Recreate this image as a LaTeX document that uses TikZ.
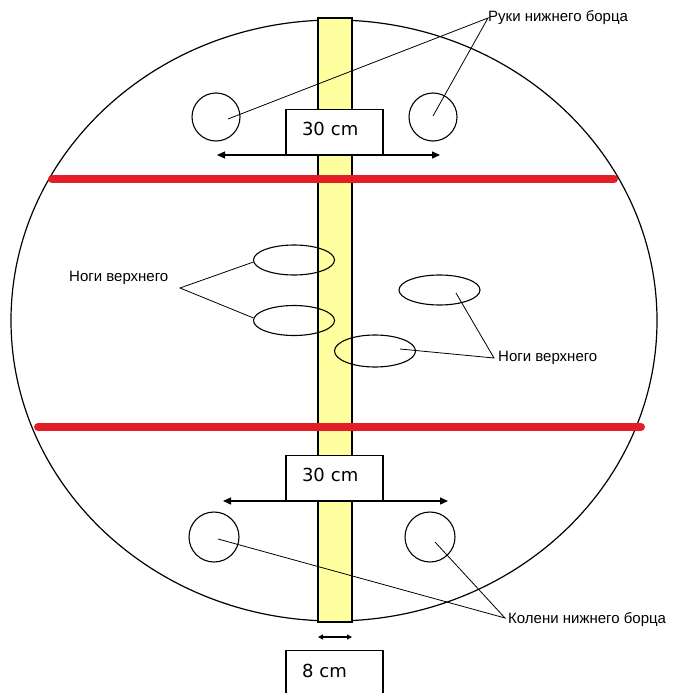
\documentclass[tikz,border=0pt]{standalone}
\usepackage{fontspec}
\setmainfont{Liberation Sans}
\newfontfamily\boxfont{DejaVu Sans}
\usetikzlibrary{arrows.meta,shapes.geometric}
\definecolor{stripY}{RGB}{255,255,160}
\definecolor{redline}{RGB}{228,30,38}
\begin{document}
\begin{tikzpicture}[x=1pt,y=-1pt,
  hand/.style={circle,draw,line width=1.1pt,minimum size=48pt,inner sep=0pt},
  foot/.style={ellipse,draw,line width=1.1pt,minimum width=81pt,minimum height=30pt,inner sep=0pt},
  mbox/.style={draw,fill=white,line width=1.2pt,minimum width=97pt,text width=65pt,align=left,
    inner xsep=16pt,inner ysep=0pt,text height=26pt,text depth=20pt,
    font=\boxfont\fontsize{18}{20}\selectfont},
  lbl/.style={font=\fontsize{15}{17}\selectfont,inner sep=0pt,anchor=west},
  leader/.style={draw,line width=0.8pt},
  dimarrow/.style={line width=1.2pt,{Triangle[length=8pt,width=7pt]}-{Triangle[length=8pt,width=7pt]}},
  smallarrow/.style={line width=1.2pt,{Triangle[length=5pt,width=5pt]}-{Triangle[length=5pt,width=5pt]}},
  redbar/.style={line width=8pt,draw=redline,line cap=round}]
\useasboundingbox (0,0) rectangle (674,693);
\clip (0,0) rectangle (674,693);
% field
\node[ellipse,draw,line width=1.2pt,minimum width=646pt,minimum height=601pt,inner sep=0pt] (field) at (334,320.5) {};
% strip
\filldraw[fill=stripY,line width=1.2pt] (318,18) rectangle (352,622);
% red lines
\draw[redbar] (52,179) -- (614,179);
\draw[redbar] (38,427) -- (641,427);
% boxes
\node[mbox,anchor=north] (btop) at (334.5,109) {30 cm};
\node[mbox,anchor=north] (bbot) at (334.5,455) {30 cm};
\node[mbox,anchor=north,text height=27pt,text depth=60pt] (b8) at (334.5,650) {8 cm};
% dimension arrows
\coordinate (t1) at (217,155); \coordinate (t2) at (440,155);
\coordinate (u1) at (223,501); \coordinate (u2) at (448,501);
\coordinate (s1) at (318,637); \coordinate (s2) at (352,637);
\draw[dimarrow] (t1) -- (t2);
\draw[dimarrow] (u1) -- (u2);
\draw[smallarrow] (s1) -- (s2);
% hands and knees
\node[hand] (h1) at (216,117) {};
\node[hand] (h2) at (433,117) {};
\node[hand,minimum size=50pt] (k1) at (214,537) {};
\node[hand,minimum size=50pt] (k2) at (430,537) {};
% feet
\node[foot] (f1) at (294,260) {};
\node[foot] (f2) at (294,320.5) {};
\node[foot] (f3) at (439.5,290) {};
\node[foot,minimum height=32pt] (f4) at (375,351) {};
% labels
\node[lbl] (lruki) at (488,18) {Руки нижнего борца};
\node[lbl] (lnogi1) at (69,278) {Ноги верхнего};
\node[lbl] (lnogi2) at (498,358) {Ноги верхнего};
\node[lbl] (lkol) at (508,620) {Колени нижнего борца};
% leader points
\coordinate (ar) at (488,18);
\coordinate (ph1) at (228,119);
\coordinate (ph2) at (433,116);
\coordinate (an1) at (180,288);
\coordinate (pf1) at (253.5,262);
\coordinate (pf2) at (253.5,318);
\coordinate (an2) at (494,358);
\coordinate (pf3) at (456,293);
\coordinate (pf4) at (400,349);
\coordinate (ak) at (505,618);
\coordinate (pk1) at (218,539);
\coordinate (pk2) at (435,542);
\draw[leader] (ph1) -- (ar) -- (ph2);
\draw[leader] (pf1) -- (an1) -- (pf2);
\draw[leader] (pf3) -- (an2) -- (pf4);
\draw[leader] (pk1) -- (ak) -- (pk2);
\end{tikzpicture}
\end{document}
